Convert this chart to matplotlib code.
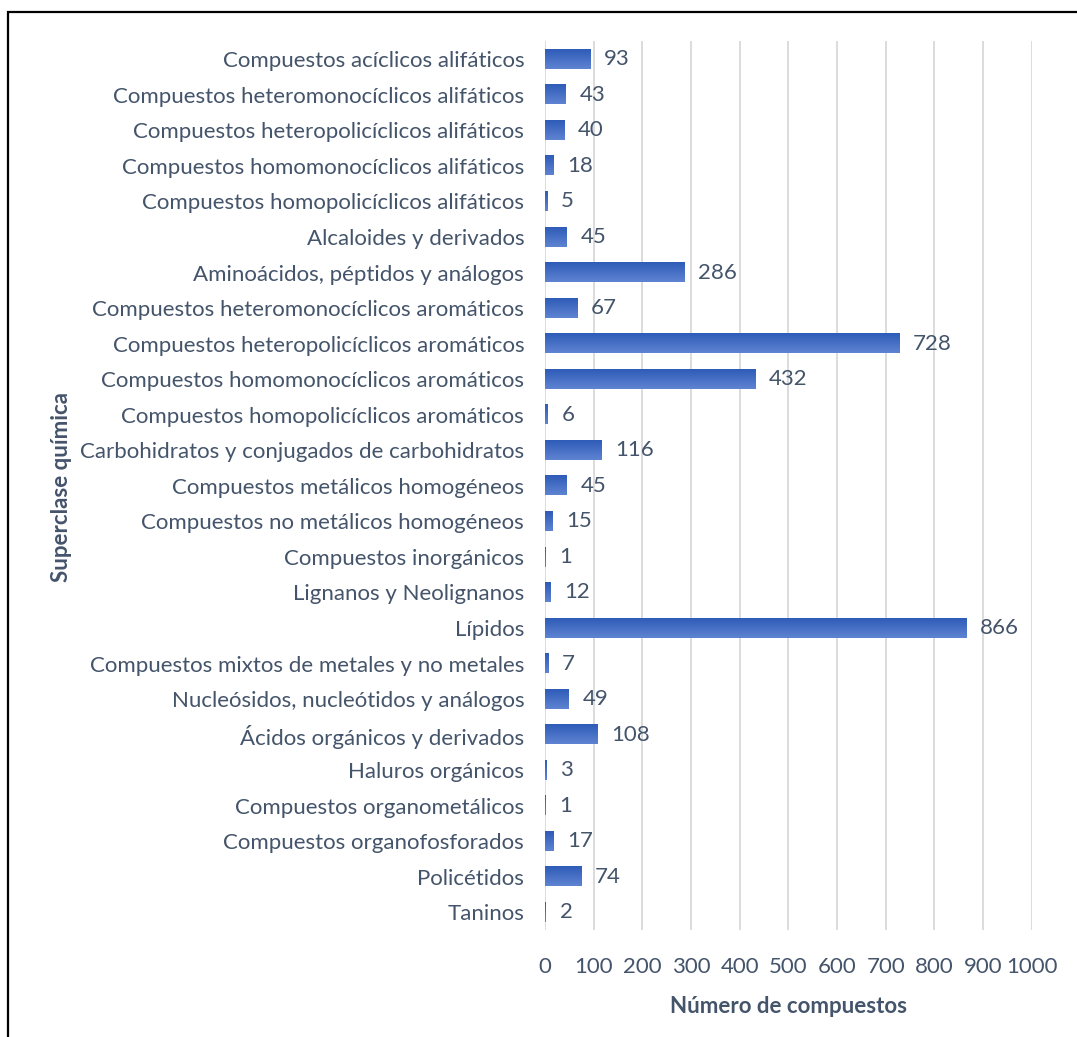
import matplotlib.pyplot as plt
from matplotlib.patches import Rectangle
import numpy as np

categorias = [
    "Compuestos acíclicos alifáticos",
    "Compuestos heteromonocíclicos alifáticos",
    "Compuestos heteropolicíclicos alifáticos",
    "Compuestos homomonocíclicos alifáticos",
    "Compuestos homopolicíclicos alifáticos",
    "Alcaloides y derivados",
    "Aminoácidos, péptidos y análogos",
    "Compuestos heteromonocíclicos aromáticos",
    "Compuestos heteropolicíclicos aromáticos",
    "Compuestos homomonocíclicos aromáticos",
    "Compuestos homopolicíclicos aromáticos",
    "Carbohidratos y conjugados de carbohidratos",
    "Compuestos metálicos homogéneos",
    "Compuestos no metálicos homogéneos",
    "Compuestos inorgánicos",
    "Lignanos y Neolignanos",
    "Lípidos",
    "Compuestos mixtos de metales y no metales",
    "Nucleósidos, nucleótidos y análogos",
    "Ácidos orgánicos y derivados",
    "Haluros orgánicos",
    "Compuestos organometálicos",
    "Compuestos organofosforados",
    "Policétidos",
    "Taninos",
]
valores = [93, 43, 40, 18, 5, 45, 286, 67, 728, 432, 6, 116, 45, 15, 1, 12,
           866, 7, 49, 108, 3, 1, 17, 74, 2]
xticks = list(range(0, 1001, 100))

plt.rcParams['font.family'] = ['Lato', 'DejaVu Sans']
texto = '#44546A'
fs = 16

fig = plt.figure(figsize=(10.77, 10.37), dpi=100)
ax = fig.add_axes([0.506, 0.103, 0.452, 0.857])

y = np.arange(len(categorias))
alto = 0.54
# degradado vertical de cada barra
grad = np.linspace(0, 1, 64).reshape(-1, 1)
cmap = plt.matplotlib.colors.LinearSegmentedColormap.from_list(
    'azul', ['#5F83D2', '#2E5CB8'])
for yi, v in zip(y, valores):
    ax.imshow(grad, cmap=cmap, aspect='auto', interpolation='bicubic',
              extent=(0, v, yi - alto / 2, yi + alto / 2), zorder=2)
    ax.text(v + 28, yi, str(v), va='center', ha='left', fontsize=fs,
            color=texto)

ax.set_xlim(0, 1000)
ax.set_ylim(len(categorias) - 0.5, -0.5)
ax.set_yticks(y)
ax.set_yticklabels(categorias, fontsize=fs, color=texto)
ax.set_xticks(xticks)
ax.set_xticklabels([str(t) for t in xticks], fontsize=fs, color=texto)
ax.tick_params(axis='both', length=0)
ax.tick_params(axis='y', pad=15)
ax.tick_params(axis='x', pad=19)
ax.grid(axis='x', color='#D9D9D9', linewidth=1.3, zorder=0)
ax.set_axisbelow(True)
for s in ax.spines.values():
    s.set_visible(False)

ax.set_xlabel('Número de compuestos', fontsize=fs, fontweight='bold',
              color=texto, labelpad=14)
fig.text(0.057, 0.530, 'Superclase química', rotation=90, fontsize=fs,
         fontweight='bold', color=texto, ha='center', va='center')

# marco del gráfico
fig.patches.append(Rectangle((8 / 1077, -0.1), 1.2, 1.1 - 12 / 1037,
                             transform=fig.transFigure, fill=False,
                             edgecolor='black', linewidth=1.6))

fig.savefig('out.png', dpi=100)
